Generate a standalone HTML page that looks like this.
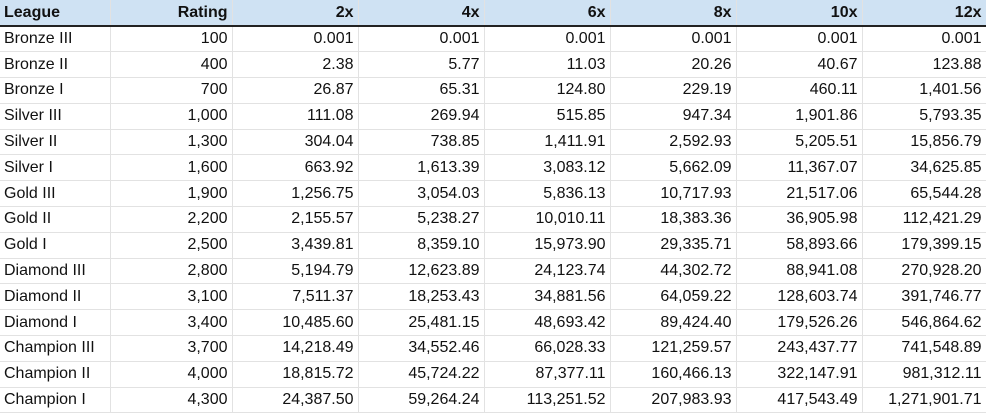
<!DOCTYPE html>
<html><head><style>
html,body{margin:0;padding:0;background:#fff;width:986px;height:413px;overflow:hidden}
table{border-collapse:collapse;table-layout:fixed;width:986px;font-family:"Liberation Sans",Arial,sans-serif;font-size:16px;color:#111}
td,th{height:25px;padding:0 4px;border-right:1px solid #e2e2e2;border-bottom:1px solid #e2e2e2;text-align:right;white-space:nowrap;overflow:hidden;box-sizing:border-box}
th{background:#cfe2f3;font-weight:bold;border-bottom:2px solid #222;height:26px;color:#111}
td:first-child,th:first-child{text-align:left}
tr td{height:25.8px}
</style></head><body>
<table>
<colgroup><col style="width:110px"><col style="width:122px"><col style="width:126px"><col style="width:126px"><col style="width:126px"><col style="width:126px"><col style="width:126px"><col style="width:124px"></colgroup>
<tr><th>League</th><th>Rating</th><th>2x</th><th>4x</th><th>6x</th><th>8x</th><th>10x</th><th>12x</th></tr>
<tr><td>Bronze III</td><td>100</td><td>0.001</td><td>0.001</td><td>0.001</td><td>0.001</td><td>0.001</td><td>0.001</td></tr>
<tr><td>Bronze II</td><td>400</td><td>2.38</td><td>5.77</td><td>11.03</td><td>20.26</td><td>40.67</td><td>123.88</td></tr>
<tr><td>Bronze I</td><td>700</td><td>26.87</td><td>65.31</td><td>124.80</td><td>229.19</td><td>460.11</td><td>1,401.56</td></tr>
<tr><td>Silver III</td><td>1,000</td><td>111.08</td><td>269.94</td><td>515.85</td><td>947.34</td><td>1,901.86</td><td>5,793.35</td></tr>
<tr><td>Silver II</td><td>1,300</td><td>304.04</td><td>738.85</td><td>1,411.91</td><td>2,592.93</td><td>5,205.51</td><td>15,856.79</td></tr>
<tr><td>Silver I</td><td>1,600</td><td>663.92</td><td>1,613.39</td><td>3,083.12</td><td>5,662.09</td><td>11,367.07</td><td>34,625.85</td></tr>
<tr><td>Gold III</td><td>1,900</td><td>1,256.75</td><td>3,054.03</td><td>5,836.13</td><td>10,717.93</td><td>21,517.06</td><td>65,544.28</td></tr>
<tr><td>Gold II</td><td>2,200</td><td>2,155.57</td><td>5,238.27</td><td>10,010.11</td><td>18,383.36</td><td>36,905.98</td><td>112,421.29</td></tr>
<tr><td>Gold I</td><td>2,500</td><td>3,439.81</td><td>8,359.10</td><td>15,973.90</td><td>29,335.71</td><td>58,893.66</td><td>179,399.15</td></tr>
<tr><td>Diamond III</td><td>2,800</td><td>5,194.79</td><td>12,623.89</td><td>24,123.74</td><td>44,302.72</td><td>88,941.08</td><td>270,928.20</td></tr>
<tr><td>Diamond II</td><td>3,100</td><td>7,511.37</td><td>18,253.43</td><td>34,881.56</td><td>64,059.22</td><td>128,603.74</td><td>391,746.77</td></tr>
<tr><td>Diamond I</td><td>3,400</td><td>10,485.60</td><td>25,481.15</td><td>48,693.42</td><td>89,424.40</td><td>179,526.26</td><td>546,864.62</td></tr>
<tr><td>Champion III</td><td>3,700</td><td>14,218.49</td><td>34,552.46</td><td>66,028.33</td><td>121,259.57</td><td>243,437.77</td><td>741,548.89</td></tr>
<tr><td>Champion II</td><td>4,000</td><td>18,815.72</td><td>45,724.22</td><td>87,377.11</td><td>160,466.13</td><td>322,147.91</td><td>981,312.11</td></tr>
<tr><td>Champion I</td><td>4,300</td><td>24,387.50</td><td>59,264.24</td><td>113,251.52</td><td>207,983.93</td><td>417,543.49</td><td>1,271,901.71</td></tr>
</table>
</body></html>
